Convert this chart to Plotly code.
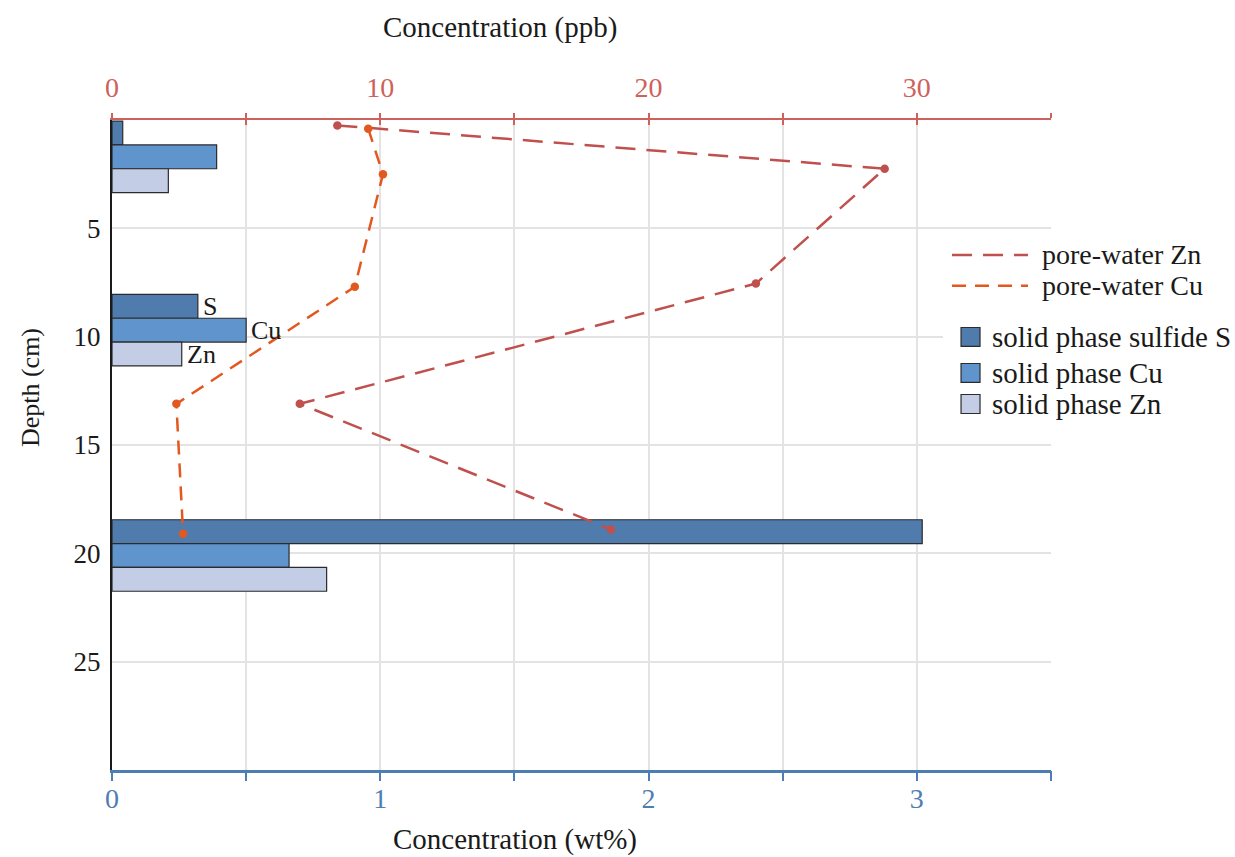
import plotly.graph_objects as go

# Solid-phase samples: depth of each sample interval (cm) and concentrations (wt%)
sample_depth = [1.7, 9.7, 20.1]
solid_sulfide_s = [0.04, 0.32, 3.02]
solid_cu = [0.39, 0.50, 0.66]
solid_zn = [0.21, 0.26, 0.80]

# Pore-water profiles (ppb) with their depths (cm)
pw_zn_depth = [0.25, 2.25, 7.55, 13.1, 18.9]
pw_zn = [8.4, 28.8, 24.0, 7.0, 18.6]
pw_cu_depth = [0.4, 2.5, 7.7, 13.1, 19.1]
pw_cu = [9.55, 10.1, 9.05, 2.4, 2.65]

# Axis ticks
wt_ticks = [0, 0.5, 1, 1.5, 2, 2.5, 3, 3.5]
wt_labels = ["0", "", "1", "", "2", "", "3", ""]
ppb_ticks = [0, 5, 10, 15, 20, 25, 30, 35]
ppb_labels = ["0", "", "10", "", "20", "", "30", ""]
depth_ticks = [5, 10, 15, 20, 25]

FONT = "Liberation Serif"
TXT = "#1a1a1a"
C_S = "#4f7bad"
C_CU = "#5f95cc"
C_ZN = "#c3cde5"
C_PW_ZN = "#c0504d"
C_PW_CU = "#e2581f"
C_TOP = "#cd625c"
C_BOT = "#4e7db3"
EDGE = "#2b2b2b"
GRID = "#e3e3e3"

BAR_THICK = 1.1  # cm, thickness of one bar
group_span = 3 * BAR_THICK
min_step = min(b - a for a, b in zip(sample_depth, sample_depth[1:]))

ZN_DASH = "20px,11px"
CU_DASH = "14px,9px"

fig = go.Figure()

bar_series = [
    ("solid phase sulfide S", solid_sulfide_s, C_S),
    ("solid phase Cu", solid_cu, C_CU),
    ("solid phase Zn", solid_zn, C_ZN),
]
for name, vals, col in bar_series:
    fig.add_trace(go.Bar(
        x=vals, y=sample_depth, orientation="h", name=name, showlegend=False,
        marker=dict(color=col, line=dict(color=EDGE, width=1.2)),
        xaxis="x", yaxis="y",
    ))

# Pore-water profiles on the ppb axis
pore_series = [
    ("pore-water Zn", pw_zn, pw_zn_depth, C_PW_ZN, ZN_DASH),
    ("pore-water Cu", pw_cu, pw_cu_depth, C_PW_CU, CU_DASH),
]
for name, xs, ys, col, dash in pore_series:
    fig.add_trace(go.Scatter(
        x=xs, y=ys, mode="lines+markers", name=name, showlegend=False,
        line=dict(color=col, width=2.5, dash=dash),
        marker=dict(color=col, size=8.5),
        xaxis="x2", yaxis="y",
    ))

# Extra tick-only axes: inward ticks on the ppb axis, outward ticks on the wt% axis
fig.add_trace(go.Scatter(x=[None], y=[None], showlegend=False,
                         xaxis="x3", yaxis="y", hoverinfo="skip"))
fig.add_trace(go.Scatter(x=[None], y=[None], showlegend=False,
                         xaxis="x4", yaxis="y", hoverinfo="skip"))

# Labels on the middle sample group
mid = 1
for k, (lab, vals) in enumerate([("S", solid_sulfide_s), ("Cu", solid_cu), ("Zn", solid_zn)]):
    fig.add_annotation(
        x=vals[mid], y=sample_depth[mid] + (k - 1) * BAR_THICK,
        xref="x", yref="y", text=lab, showarrow=False,
        xanchor="left", yanchor="middle", xshift=3,
        font=dict(family=FONT, size=26, color=TXT),
    )

# Axis titles
for txt, x, y, ang, size in [
    ("Concentration (ppb)", 0.413, 1.142, 0, 29),
    ("Concentration (wt%)", 0.429, -0.107, 0, 29),
    ("Depth (cm)", -0.087, 0.588, -90, 26),
]:
    fig.add_annotation(
        x=x, y=y, xref="paper", yref="paper", text=txt, showarrow=False,
        xanchor="center", yanchor="middle", textangle=ang,
        font=dict(family=FONT, size=size, color=TXT),
    )

# Legend panel (white background over the grid)
fig.add_shape(type="rect", xref="paper", yref="paper",
              x0=0.885, x1=1.19, y0=0.531, y1=0.815,
              fillcolor="white", line=dict(width=0), layer="above")

# Legend: dashed samples for the pore-water lines
for (name, _, _, col, dash), yl in zip(pore_series, [0.7925, 0.745]):
    fig.add_shape(type="line", xref="paper", yref="paper",
                  x0=0.8946, x1=0.9755, y0=yl, y1=yl, layer="above",
                  line=dict(color=col, width=2.5, dash=dash))
    fig.add_annotation(x=0.9883, y=yl, xref="paper", yref="paper", text=name,
                       showarrow=False, xanchor="left", yanchor="middle",
                       font=dict(family=FONT, size=28, color=TXT))

# Legend: swatches for the solid-phase bars
half = 0.0146
for (name, _, col), yl in zip(bar_series, [0.6662, 0.6108, 0.5631]):
    fig.add_shape(type="rect", xref="paper", yref="paper",
                  x0=0.9042, x1=0.9244, y0=yl - half, y1=yl + half, layer="above",
                  fillcolor=col, line=dict(color=EDGE, width=1.2))
    fig.add_annotation(x=0.935, y=yl, xref="paper", yref="paper", text=name,
                       showarrow=False, xanchor="left", yanchor="middle",
                       font=dict(family=FONT, size=29, color=TXT))

fig.update_layout(
    width=1235, height=857,
    margin=dict(l=112, r=184, t=120, b=87, autoexpand=False),
    paper_bgcolor="white", plot_bgcolor="white",
    font=dict(family=FONT, size=27, color=TXT),
    showlegend=False,
    barmode="group",
    bargap=1 - group_span / min_step,
    bargroupgap=0,
    xaxis=dict(
        range=[0, 3.5], tickvals=wt_ticks, ticktext=wt_labels,
        showgrid=True, gridcolor=GRID, gridwidth=2,
        showline=True, linecolor=C_BOT, linewidth=2.5,
        ticks="", ticklabelstandoff=2,
        tickfont=dict(family=FONT, size=28, color=C_BOT), zeroline=False,
    ),
    xaxis4=dict(
        range=[0, 3.5], tickvals=wt_ticks, overlaying="x", side="bottom",
        showgrid=False, showline=False, showticklabels=False,
        ticks="outside", ticklen=10, tickwidth=2, tickcolor=C_BOT, zeroline=False,
    ),
    xaxis2=dict(
        range=[0, 35], tickvals=ppb_ticks, ticktext=ppb_labels,
        overlaying="x", side="top", showgrid=False,
        showline=True, linecolor=C_TOP, linewidth=2.2,
        ticks="outside", ticklen=5, tickwidth=2, tickcolor=C_TOP,
        tickfont=dict(family=FONT, size=28, color=C_TOP),
        ticklabelstandoff=5, zeroline=False,
    ),
    xaxis3=dict(
        range=[0, 35], tickvals=ppb_ticks, overlaying="x", side="top",
        showgrid=False, showline=False, showticklabels=False,
        ticks="inside", ticklen=5, tickwidth=2, tickcolor=C_TOP, zeroline=False,
    ),
    yaxis=dict(
        range=[30, 0], tickvals=depth_ticks,
        showgrid=True, gridcolor=GRID, gridwidth=2,
        showline=True, linecolor=TXT, linewidth=2,
        ticks="", ticklabelstandoff=4, zeroline=False,
        tickfont=dict(family=FONT, size=27, color=TXT),
    ),
)

fig.write_html("out.html")
